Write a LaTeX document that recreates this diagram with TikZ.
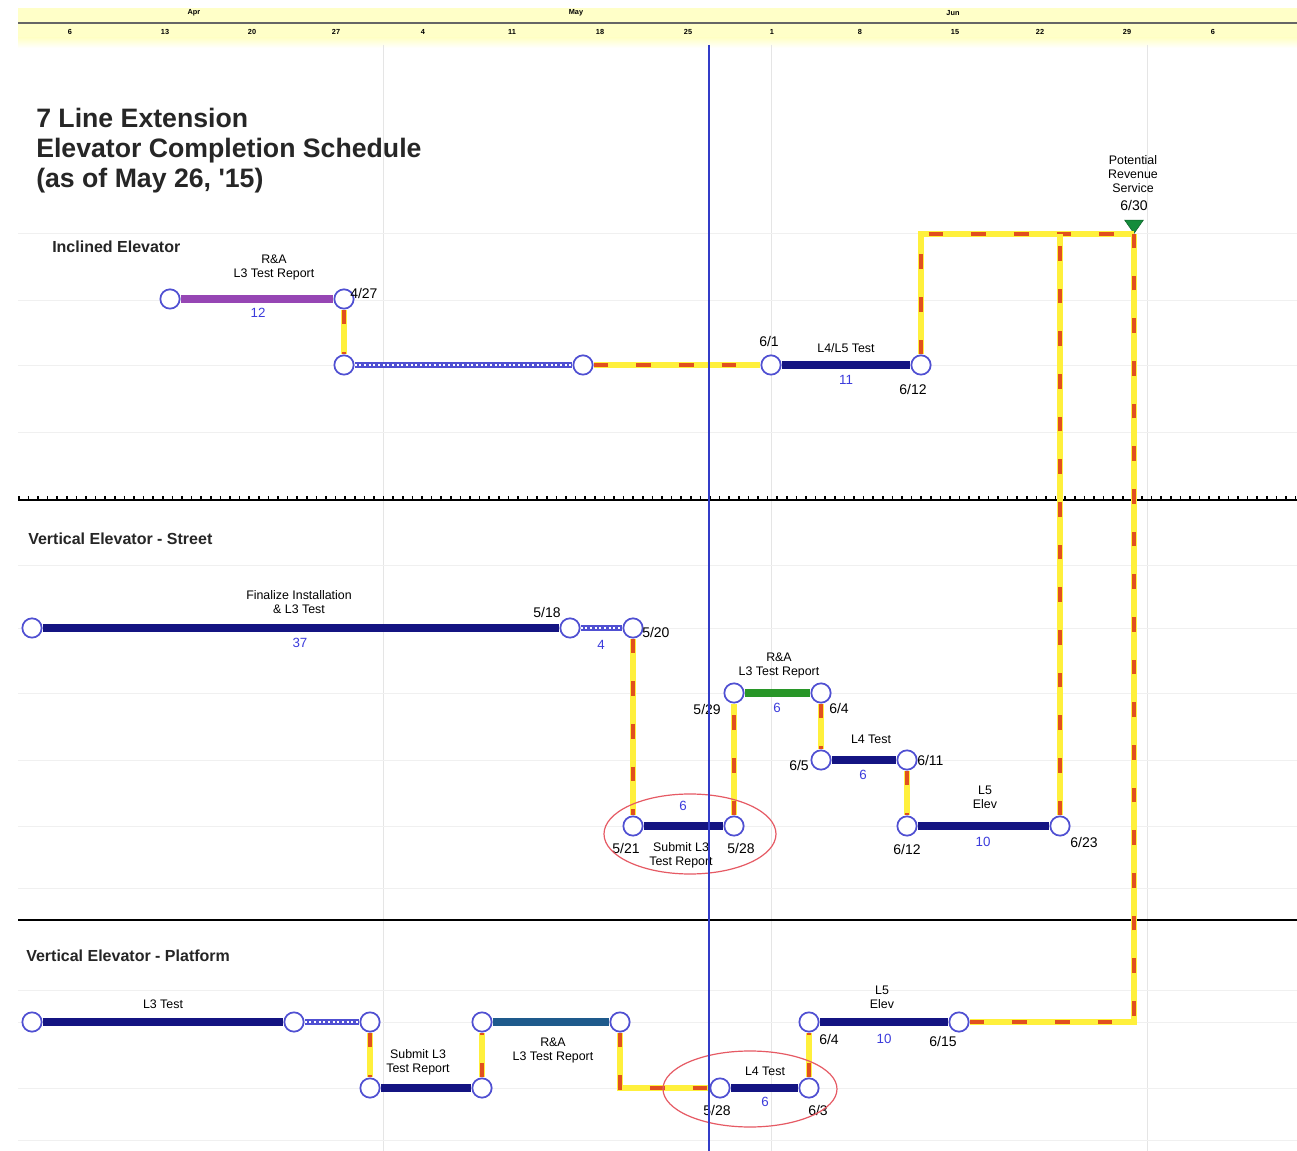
\documentclass[tikz,border=0pt]{standalone}
\usepackage{fontspec}
\setmainfont{Liberation Sans}[Ligatures=TeXOff]
\usetikzlibrary{shapes.geometric}
\definecolor{navy}{RGB}{20,20,130}
\definecolor{barpurple}{RGB}{150,70,180}
\definecolor{bargreen}{RGB}{40,150,40}
\definecolor{barteal}{RGB}{30,90,140}
\definecolor{nodeblue}{RGB}{80,80,210}
\definecolor{todayblue}{RGB}{50,60,200}
\definecolor{linkyellow}{RGB}{255,240,60}
\definecolor{linkred}{RGB}{225,80,30}
\definecolor{ellred}{RGB}{230,90,100}
\definecolor{numblue}{RGB}{60,60,220}
\definecolor{hdr}{RGB}{255,255,200}
\definecolor{trigreen}{RGB}{20,140,60}
\tikzset{
  ms/.style={circle,draw=nodeblue,fill=white,line width=1.3pt,minimum size=14.5pt,inner sep=0pt},
  barstyle/.style={line width=6pt},
  navybar/.style={barstyle,draw=navy},
  floatbar/.style={draw=nodeblue,line width=4.5pt,postaction={draw=white,line width=1.8pt,dash pattern=on 1.5pt off 2pt}},
  linkline/.style={draw=linkyellow,line width=4pt,postaction={draw=linkred,line width=2.3pt,dash pattern=on 11pt off 21pt}},
  lbl/.style={font=\fontsize{9.3}{10.5}\selectfont,align=center,inner sep=0pt},
  dt/.style={font=\fontsize{10.5}{11}\selectfont,inner sep=0pt},
  num/.style={font=\fontsize{10}{11}\selectfont,text=numblue,inner sep=0pt},
  sect/.style={font=\fontsize{12}{13}\selectfont\bfseries,anchor=west,inner sep=0pt,text=black!85},
  hdrtxt/.style={font=\fontsize{5.5}{6}\selectfont\bfseries,inner sep=0pt},
  grid/.style={draw=black!10,line width=0.6pt},
  ell/.style={draw=ellred,line width=0.9pt}
}
\begin{document}
\begin{tikzpicture}[x=0.75pt,y=-0.75pt]
\useasboundingbox (0,0) rectangle (1297,1151);
\fill[white] (0,0) rectangle (1297,1151);
% header
\fill[hdr] (18,8) rectangle (1297,38);
\shade[top color=hdr,bottom color=white] (18,38) rectangle (1297,48);
\draw[black!60,line width=0.8pt] (18,23) -- (1297,23);
\foreach \m/\x in {Apr/194,May/576,Jun/953} \node[hdrtxt] (m\m) at (\x,13) {\m};
\foreach \d/\x [count=\i] in {6/70,13/165,20/252,27/336,4/423,11/512,18/600,25/688,1/772,8/860,15/955,22/1040,29/1127,6/1213}
  \node[hdrtxt] (d\i) at (\x,32) {\d};
% grid
\foreach \x in {383,771,1147} \draw[grid] (\x,45) -- (\x,1151);
\foreach \y in {233,300,365,432,565,628,693,760,826,888,990,1022,1088,1140} \draw[grid,draw=black!6] (18,\y) -- (1297,\y);
% separators
\draw[black,line width=1.4pt] (18,500) -- (1297,500);
\draw[black,line width=3pt,dash pattern=on 1.2pt off 6pt] (18,498) -- (1297,498);
\draw[black,line width=1.4pt] (18,920) -- (1297,920);
% title
\node[anchor=north west,align=left,inner sep=0pt,font=\fontsize{20}{22.5}\selectfont\bfseries,text=black!85] (title) at (36,108)
  {7 Line Extension\\Elevator Completion Schedule\\(as of May 26, '15)};
\node[sect] (s1) at (52,247) {Inclined Elevator};
\node[sect] (s2) at (28,539) {Vertical Elevator - Street};
\node[sect] (s3) at (26,956) {Vertical Elevator - Platform};
% ---------- Inclined elevator
\node[ms] (A1) at (170,299) {};
\node[ms] (A2) at (344,299) {};
\node[ms] (A3) at (344,365) {};
\node[ms] (A4) at (583,365) {};
\node[ms] (A5) at (771,365) {};
\node[ms] (A6) at (921,365) {};
\node[isosceles triangle,shape border rotate=270,fill=trigreen,draw=trigreen!70!black,minimum width=12pt,minimum height=10pt,inner sep=0pt,isosceles triangle apex angle=70] (T) at (1134,225) {};
\coordinate (J1) at (1060,234);
\coordinate (J2) at (1134,234);
\draw[barstyle,draw=barpurple] (A1) -- (A2);
\draw[linkline] (A2) -- (A3);
\draw[floatbar] (A3) -- (A4);
\draw[linkline] (A4) -- (A5);
\draw[navybar] (A5) -- (A6);
\draw[linkline] (A6) |- (J2);
\node[lbl] (lA12) at (274,268) {R\&A\\L3 Test Report};
\node[num] (nA12) at (258,313) {12};
\node[dt,anchor=west] (dA2) at (350,293) {4/27};
\node[dt] (dA5) at (769,341) {6/1};
\node[lbl] (lA56) at (846,348) {L4/L5 Test};
\node[num] (nA56) at (846,380) {11};
\node[dt] (dA6) at (913,389) {6/12};
\node[lbl] (lT) at (1133,174) {Potential\\Revenue\\Service};
\node[dt] (dT) at (1134,206) {6/30};
% ---------- Street
\node[ms] (B1) at (32,628) {};
\node[ms] (B2) at (570,628) {};
\node[ms] (B3) at (633,628) {};
\node[ms] (B4) at (633,826) {};
\node[ms] (B5) at (734,826) {};
\node[ms] (B6) at (734,693) {};
\node[ms] (B7) at (821,693) {};
\node[ms] (B8) at (821,760) {};
\node[ms] (B9) at (907,760) {};
\node[ms] (B10) at (907,826) {};
\node[ms] (B11) at (1060,826) {};
\draw[navybar] (B1) -- (B2);
\draw[floatbar] (B2) -- (B3);
\draw[linkline] (B3) -- (B4);
\draw[navybar] (B4) -- (B5);
\draw[linkline] (B5) -- (B6);
\draw[barstyle,draw=bargreen] (B6) -- (B7);
\draw[linkline] (B7) -- (B8);
\draw[navybar] (B8) -- (B9);
\draw[linkline] (B9) -- (B10);
\draw[navybar] (B10) -- (B11);
\draw[linkline] (B11) -- (J1);
\node[lbl] (lB12) at (299,602) {Finalize Installation\\\& L3 Test};
\node[num] (nB12) at (300,643) {37};
\node[dt] (dB2) at (547,612) {5/18};
\node[num] (nB23) at (601,645) {4};
\node[dt,anchor=west] (dB3) at (642,632) {5/20};
\node[num] (nB45) at (683,806) {6};
\node[dt] (dB4) at (626,848) {5/21};
\node[lbl] (lB45) at (681,855) {Submit L3\\Test Report};
\node[dt] (dB5) at (741,848) {5/28};
\node[lbl] (lB67) at (779,665) {R\&A\\L3 Test Report};
\node[num] (nB67) at (777,708) {6};
\node[dt,anchor=east] (dB6) at (721,709) {5/29};
\node[dt,anchor=west] (dB7) at (829,708) {6/4};
\node[lbl] (lB89) at (871,739) {L4 Test};
\node[num] (nB89) at (863,775) {6};
\node[dt,anchor=east] (dB8) at (809,765) {6/5};
\node[dt,anchor=west] (dB9) at (917,760) {6/11};
\node[lbl] (lB1011) at (985,797) {L5\\Elev};
\node[num] (nB1011) at (983,842) {10};
\node[dt] (dB10) at (907,849) {6/12};
\node[dt] (dB11) at (1084,842) {6/23};
\draw[ell] (690,834) ellipse [x radius=86,y radius=40];
% ---------- Platform
\node[ms] (C1) at (32,1022) {};
\node[ms] (C2) at (294,1022) {};
\node[ms] (C3) at (370,1022) {};
\node[ms] (C4) at (370,1088) {};
\node[ms] (C5) at (482,1088) {};
\node[ms] (C6) at (482,1022) {};
\node[ms] (C7) at (620,1022) {};
\node[ms] (C8) at (720,1088) {};
\node[ms] (C9) at (809,1088) {};
\node[ms] (C10) at (809,1022) {};
\node[ms] (C11) at (959,1022) {};
\draw[navybar] (C1) -- (C2);
\draw[floatbar] (C2) -- (C3);
\draw[linkline] (C3) -- (C4);
\draw[navybar] (C4) -- (C5);
\draw[linkline] (C5) -- (C6);
\draw[barstyle,draw=barteal] (C6) -- (C7);
\draw[linkline] (C7) |- (C8);
\draw[navybar] (C8) -- (C9);
\draw[linkline] (C9) -- (C10);
\draw[navybar] (C10) -- (C11);
\draw[linkline] (C11) -| (T);
\node[lbl] (lC12) at (163,1004) {L3 Test};
\node[lbl] (lC45) at (418,1062) {Submit L3\\Test Report};
\node[lbl] (lC67) at (553,1050) {R\&A\\L3 Test Report};
\node[lbl] (lC89) at (765,1071) {L4 Test};
\node[num] (nC89) at (765,1102) {6};
\node[dt] (dC8) at (717,1110) {5/28};
\node[dt] (dC9) at (818,1110) {6/3};
\node[lbl] (lC1011) at (882,997) {L5\\Elev};
\node[dt] (dC10) at (829,1039) {6/4};
\node[num] (nC1011) at (884,1039) {10};
\node[dt] (dC11) at (943,1041) {6/15};
\draw[ell] (750,1089) ellipse [x radius=87,y radius=38];
% today line
\draw[todayblue,line width=1.8pt] (709,45) -- (709,1151);
\end{tikzpicture}
\end{document}
